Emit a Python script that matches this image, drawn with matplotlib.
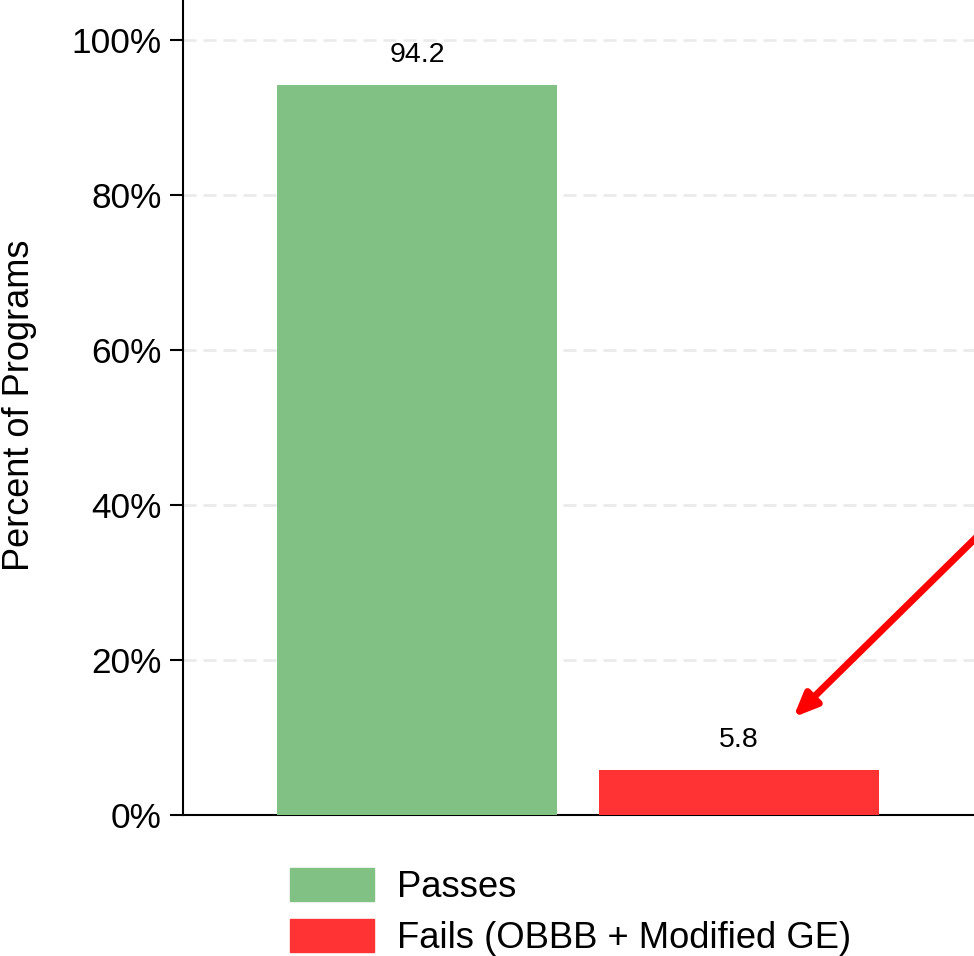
import matplotlib

matplotlib.use("Agg")
import matplotlib.pyplot as plt
from matplotlib.patches import Patch
from matplotlib.ticker import FuncFormatter

plt.rcParams["font.family"] = ["Liberation Sans", "DejaVu Sans"]

categories = ["Passes", "Fails (OBBB + Modified GE)"]
values = [94.2, 5.8]
colors = ["#82c184", "#ff3333"]
yticks = [0, 20, 40, 60, 80, 100]

fig = plt.figure(figsize=(9.74, 9.56), dpi=100)
# axes runs off the top and right edge, like the cropped reference
ax = fig.add_axes([0.1879, 0.1475, 0.8686, 0.892])

x = list(range(len(values)))
bars = ax.bar(x, values, width=0.87, color=colors, zorder=3)
for xi, v in zip(x, values):
    ax.annotate(f"{v:.1f}", (xi, v), xytext=(0, 12), textcoords="offset points",
                ha="center", va="bottom", fontsize=20.5)

# arrow pointing at the fails bar
ax.annotate("", xy=(1.168, 12.6), xytext=(1.9, 42.5),
            arrowprops=dict(arrowstyle="-|>,head_length=1.4,head_width=0.6",
                            color="#ff0000", lw=5, shrinkA=0, shrinkB=0),
            zorder=5, annotation_clip=False)

ax.set_xlim(-0.727, 1.9)
ax.set_ylim(0, 110)
ax.set_yticks(yticks)
ax.yaxis.set_major_formatter(FuncFormatter(lambda v, _: f"{v:.0f}%"))
ax.tick_params(axis="y", labelsize=25.4, length=9.5, width=1.5, pad=6)
ax.tick_params(axis="x", bottom=False, labelbottom=False)
ax.set_ylabel("Percent of Programs", fontsize=26)
ax.yaxis.set_label_coords(-0.172, 0.48)

ax.grid(axis="y", color="#ebebeb", lw=2, linestyle=(0, (4.7, 2.5)), zorder=0)
ax.set_axisbelow(True)
for side in ["top", "right"]:
    ax.spines[side].set_visible(False)
for side in ["left", "bottom"]:
    ax.spines[side].set_linewidth(1.5)

handles = [Patch(color=c, label=l) for c, l in zip(colors, categories)]
fig.legend(handles=handles, loc="upper left", bbox_to_anchor=(290 / 974, 1 - 868 / 956),
           frameon=False, fontsize=26.2, handlelength=2.3, handleheight=1.0,
           handletextpad=0.65, labelspacing=0.4, borderpad=0, borderaxespad=0)

fig.savefig("out.png", dpi=100)
